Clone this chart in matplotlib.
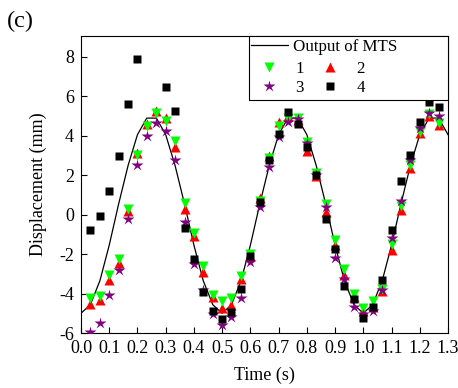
import numpy as np
import matplotlib
matplotlib.use("Agg")
import matplotlib.pyplot as plt
from matplotlib.patches import Rectangle
from matplotlib.lines import Line2D

plt.rcParams['font.family'] = ['Liberation Serif', 'DejaVu Serif']
plt.rcParams['mathtext.fontset'] = 'stix'

# MTS actuator output (s, mm)
t_mts = [0.000, 0.033, 0.067, 0.100, 0.133, 0.167, 0.200, 0.233, 0.267, 0.300,
         0.333, 0.367, 0.400, 0.433, 0.467, 0.500, 0.533, 0.567, 0.600, 0.633,
         0.667, 0.700, 0.733, 0.767, 0.800, 0.833, 0.867, 0.900, 0.933, 0.967,
         1.000, 1.033, 1.067, 1.100, 1.133, 1.167, 1.200, 1.233, 1.267, 1.300]
d_mts = [-5.00, -4.57, -3.35, -1.55, 0.52, 2.50, 4.05, 4.89, 4.89, 4.05,
         2.50, 0.52, -1.55, -3.35, -4.57, -5.00, -4.57, -3.35, -1.55, 0.52,
         2.50, 4.05, 4.89, 4.89, 4.05, 2.50, 0.52, -1.55, -3.35, -4.57,
         -5.00, -4.57, -3.35, -1.55, 0.52, 2.50, 4.05, 4.89, 4.89, 4.05]

# Measured displacement of points 1-4 (frame times, s)
t_pts = [0.033, 0.067, 0.100, 0.133, 0.167, 0.200, 0.233, 0.267, 0.300, 0.333,
         0.367, 0.400, 0.433, 0.467, 0.500, 0.533, 0.567, 0.600, 0.633, 0.667,
         0.700, 0.733, 0.767, 0.800, 0.833, 0.867, 0.900, 0.933, 0.967, 1.000,
         1.033, 1.067, 1.100, 1.133, 1.167, 1.200, 1.233, 1.267]
d_pt1 = [-4.22, -4.10, -3.04, -2.27, 0.29, 3.00, 4.49, 5.17, 4.76, 3.72,
         0.57, -0.92, -2.63, -4.06, -4.38, -4.25, -3.12, -2.00, 0.70, 2.85,
         4.51, 4.90, 4.88, 3.70, 2.09, 0.52, -1.27, -2.75, -4.02, -4.71,
         -4.38, -3.79, -1.51, 0.43, 2.51, 4.20, 5.08, 4.66]
d_pt2 = [-4.54, -4.34, -3.29, -2.45, 0.19, 3.10, 4.60, 5.27, 4.88, 3.44,
         0.26, -1.08, -2.90, -4.18, -4.74, -4.59, -3.24, -2.09, 0.85, 2.97,
         4.71, 5.00, 4.80, 3.22, 1.95, 0.14, -1.55, -3.07, -4.18, -4.90,
         -4.70, -3.86, -1.77, 0.25, 2.35, 4.15, 5.00, 4.52]
d_pt3 = [-5.93, -5.47, -4.05, -2.83, -0.23, 2.53, 3.97, 4.66, 4.24, 2.77,
         -0.40, -2.52, -3.83, -5.06, -5.58, -5.19, -4.25, -2.40, 0.40, 2.40,
         3.95, 4.71, 4.83, 3.64, 2.00, 0.40, -2.22, -3.26, -4.68, -5.05,
         -4.88, -3.80, -1.18, 0.67, 2.77, 4.38, 5.17, 5.00]
d_pt4 = [-0.77, -0.08, 1.18, 2.97, 5.62, 7.86, np.nan, np.nan, 6.47, 5.24,
         -0.70, -2.26, -3.92, -4.89, -5.28, -4.96, -3.75, -2.09, 0.63, 2.77,
         4.09, 5.22, 4.58, 3.43, 2.00, -0.23, -1.76, -3.61, -4.29, -5.23,
         -4.68, -3.29, -0.79, 1.71, 3.04, 4.67, 5.73, 5.44]

x_ticks = [0.0, 0.1, 0.2, 0.3, 0.4, 0.5, 0.6, 0.7, 0.8, 0.9, 1.0, 1.1, 1.2, 1.3]
y_ticks = [-6, -4, -2, 0, 2, 4, 6, 8]

W, H = 458, 388
fig = plt.figure(figsize=(W / 100, H / 100), dpi=100)
ax = fig.add_axes([81 / W, 1 - 333 / H, 367 / W, 297 / H])

line, = ax.plot(t_mts, d_mts, color='black', lw=0.9, zorder=2)
h2, = ax.plot(t_pts, d_pt2, ls='none', marker='^', ms=7.5, color='#ff0000', mec='none', zorder=3)
h1, = ax.plot(t_pts, d_pt1, ls='none', marker='v', ms=7.5, color='#00ff00', mec='none', zorder=4)
h3, = ax.plot(t_pts, d_pt3, ls='none', marker='*', ms=9, color='#800080', mec='none', zorder=5)
h4, = ax.plot(t_pts, d_pt4, ls='none', marker='s', ms=6, color='black', mec='none', zorder=6)

ax.set_xlim(0, 1.3)
ax.set_ylim(-6, 9.05)
ax.set_xticks(x_ticks)
ax.set_xticklabels([f"{v:.1f}" for v in x_ticks])
ax.set_yticks(y_ticks)
ax.set_yticklabels([str(v) for v in y_ticks])
ax.tick_params(direction='in', length=4, width=0.8, labelsize=13, pad=5)
for s in ax.spines.values():
    s.set_linewidth(0.8)

ax.set_xlabel("Time (s)", fontsize=13)
ax.set_ylabel("Displacement (mm)", fontsize=13)
ax.xaxis.set_label_coords(0.5, -0.115)
ax.yaxis.set_label_coords(-0.092, 0.5)

fig.text(7 / W, 1 - 21 / H, "(c)", fontsize=17.5, va='center', ha='left')

# legend box
x0, x1, y0, y1 = 249, 448, 36, 100
fig.patches.append(Rectangle((x0 / W, 1 - y1 / H), (x1 - x0) / W, (y1 - y0) / H,
                             transform=fig.transFigure, facecolor='white',
                             edgecolor='black', lw=0.8, zorder=10))

leg1 = fig.legend(handles=[Line2D([], [], color='black', lw=0.9)],
                  labels=["Output of MTS"], loc='center left',
                  bbox_to_anchor=(251 / W, 1 - 47 / H), frameon=False,
                  fontsize=12.2, handlelength=2.2, handletextpad=0.3,
                  borderpad=0, borderaxespad=0)
leg1.set_zorder(11)
leg2 = fig.legend(handles=[h1, h3, h2, h4], labels=["1", "3", "2", "4"], ncol=2,
                  loc='upper left', bbox_to_anchor=(253 / W, 1 - 61 / H),
                  frameon=False, fontsize=12.2, handlelength=1.9,
                  handletextpad=0.6, columnspacing=0.6, labelspacing=0.15,
                  borderpad=0, borderaxespad=0)
leg2.set_zorder(11)

fig.savefig("out.png", dpi=100)
